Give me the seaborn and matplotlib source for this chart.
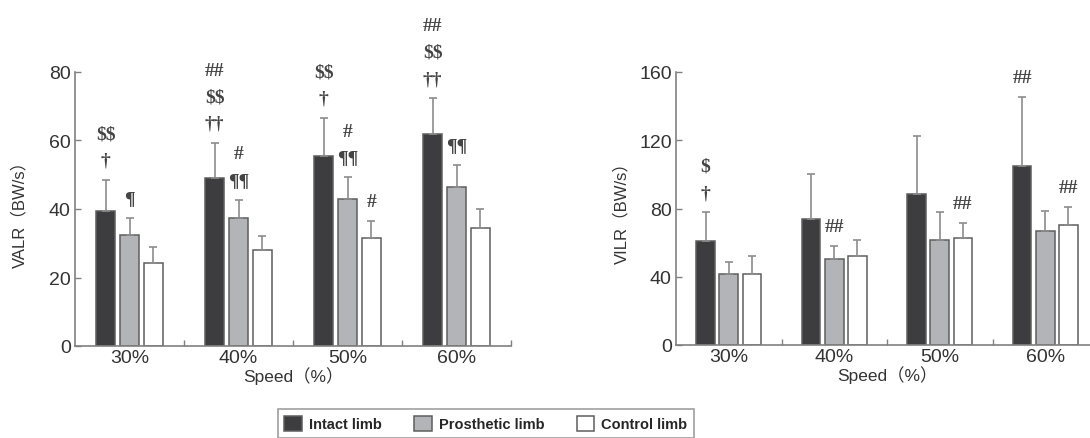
import matplotlib
matplotlib.use('Agg')
import numpy as np
import pandas as pd
import matplotlib.pyplot as plt
import seaborn as sns
from matplotlib.patches import Patch

# Data
speeds = ['30%', '40%', '50%', '60%']
limbs = ['Intact limb', 'Prosthetic limb', 'Control limb']

# VALR (BW/s): mean and upper SD
valr_intact = [39.5, 49.0, 55.4, 62.0]
valr_prosthetic = [32.5, 37.4, 42.8, 46.3]
valr_control = [24.2, 28.1, 31.5, 34.5]
valr_intact_sd = [9.0, 10.3, 11.2, 10.4]
valr_prosthetic_sd = [4.9, 5.3, 6.5, 6.5]
valr_control_sd = [4.8, 4.1, 4.9, 5.5]

# VILR (BW/s): mean and upper SD
vilr_intact = [61.0, 73.9, 88.3, 105.1]
vilr_prosthetic = [41.4, 50.2, 61.4, 66.6]
vilr_control = [41.4, 52.2, 62.9, 70.5]
vilr_intact_sd = [16.8, 26.1, 34.0, 40.3]
vilr_prosthetic_sd = [7.1, 8.0, 16.4, 11.9]
vilr_control_sd = [11.0, 9.3, 8.4, 10.2]

# significance marks: (speed index, limb index, marks from bottom to top)
valr_marks = [(0, 0, ['\u2020', '$$']), (0, 1, ['\u00b6']),
              (1, 0, ['\u2020\u2020', '$$', '##']), (1, 1, ['\u00b6\u00b6', '#']),
              (2, 0, ['\u2020', '$$']), (2, 1, ['\u00b6\u00b6', '#']), (2, 2, ['#']),
              (3, 0, ['\u2020\u2020', '$$', '##']), (3, 1, ['\u00b6\u00b6'])]
vilr_marks = [(0, 0, ['\u2020', '$']), (1, 1, ['##']), (2, 2, ['##']),
              (3, 0, ['##']), (3, 2, ['##'])]

colors = ['#3d3d40', '#b3b4b7', '#ffffff']
edge = '#5e5e5e'
spine_c = '#808080'


def make_df(intact, prost, ctrl):
    rows = []
    for vals, limb in zip([intact, prost, ctrl], limbs):
        for s, v in zip(speeds, vals):
            rows.append({'speed': s, 'limb': limb, 'value': v})
    return pd.DataFrame(rows)


sns.set_style('ticks')
plt.rcParams['font.family'] = ['Liberation Sans', 'Noto Sans CJK SC']
plt.rcParams['text.parse_math'] = False

fig = plt.figure(figsize=(10.9, 4.39), dpi=100)
ax1 = fig.add_axes([75 / 1090, 1 - 347 / 439, 436 / 1090, 274 / 439])
ax2 = fig.add_axes([676 / 1090, 1 - 346 / 439, 422 / 1090, 273 / 439])

panels = [
    (ax1, make_df(valr_intact, valr_prosthetic, valr_control),
     [valr_intact_sd, valr_prosthetic_sd, valr_control_sd], valr_marks,
     'VALR\uff08BW/s\uff09', 80, [0, 20, 40, 60, 80]),
    (ax2, make_df(vilr_intact, vilr_prosthetic, vilr_control),
     [vilr_intact_sd, vilr_prosthetic_sd, vilr_control_sd], vilr_marks,
     'VILR\uff08BW/s\uff09', 160, [0, 40, 80, 120, 160]),
]

for ax, df, sds, marks, ylab, ymax, yticks in panels:
    sns.barplot(data=df, x='speed', y='value', hue='limb', hue_order=limbs,
                palette=colors, errorbar=None, width=0.66, gap=0.2,
                edgecolor=edge, linewidth=1.1, legend=False, ax=ax)
    bar_groups = list(ax.containers)
    tops = []
    for i, cont in enumerate(bar_groups):
        xs = np.array([b.get_x() + b.get_width() / 2 for b in cont])
        hs = np.array([b.get_height() for b in cont])
        sd = np.array(sds[i])
        ax.errorbar(xs, hs, yerr=[np.zeros_like(sd), sd], fmt='none',
                    ecolor='#8c8c8c', elinewidth=1.2, capsize=3, capthick=1.2,
                    zorder=1)
        tops.append((xs, hs + sd))
    for g, h, texts in marks:
        x = tops[h][0][g]
        y = tops[h][1][g]
        for k, t in enumerate(texts):
            ax.annotate(t, (x, y), xytext=(0, 14 + 19 * k),
                        textcoords='offset points', ha='center', va='center',
                        fontsize=14, fontweight='bold', color='#444444',
                        family='Liberation Serif', annotation_clip=False,
                        parse_math=False)

    ax.set_xlim(-0.5, 3.5)
    ax.set_ylim(0, ymax)
    ax.set_yticks(yticks)
    ax.set_xticks(range(len(speeds)))
    ax.set_xticklabels(speeds)
    ax.set_xticks([0.5, 1.5, 2.5, 3.5], minor=True)
    ax.tick_params(axis='x', which='major', length=0, labelsize=14,
                   colors='#333333', pad=2)
    ax.tick_params(axis='x', which='minor', direction='in', length=4,
                   color=spine_c, width=1)
    ax.tick_params(axis='y', direction='in', length=4, color=spine_c,
                   labelsize=14, labelcolor='#333333', width=1, pad=3)
    ax.set_xlabel('Speed\uff08%\uff09', fontsize=12.5, color='#333333', labelpad=0)
    ax.set_ylabel(ylab, fontsize=12, color='#333333')
    ax.yaxis.set_label_coords(-0.11, 0.5)
    sns.despine(ax=ax)
    for sp in ['left', 'bottom']:
        ax.spines[sp].set_color(spine_c)
        ax.spines[sp].set_linewidth(1.2)
    ax.patch.set_alpha(0)

handles = [Patch(facecolor=c, edgecolor=edge, linewidth=1.1) for c in colors]
leg = fig.legend(handles, limbs, loc='upper center', ncol=3,
                 bbox_to_anchor=(486 / 1090, 1 - 403 / 439),
                 prop={'size': 10.5, 'weight': 'bold'}, fancybox=False,
                 edgecolor='#888888', handlelength=1.2, handleheight=1.2,
                 columnspacing=2.2, handletextpad=0.5, borderpad=0.45)
leg.get_frame().set_linewidth(1.2)

fig.savefig('out.png', dpi=100, facecolor='white')
